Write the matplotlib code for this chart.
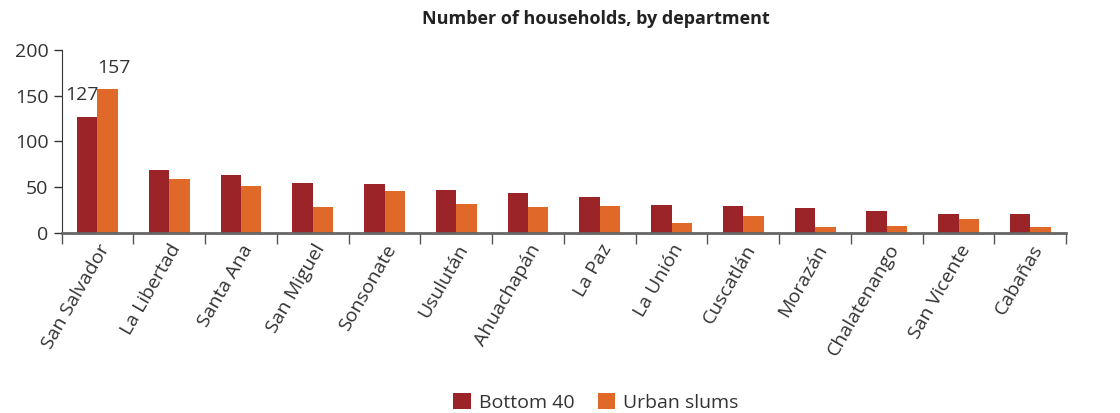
import numpy as np
import matplotlib.pyplot as plt

plt.rcParams['font.family'] = ['Open Sans', 'DejaVu Sans']

departments = ['San Salvador', 'La Libertad', 'Santa Ana', 'San Miguel', 'Sonsonate',
               'Usulután', 'Ahuachapán', 'La Paz', 'La Unión', 'Cuscatlán', 'Morazán',
               'Chalatenango', 'San Vicente', 'Cabañas']
bottom40 = [127, 69, 63, 55, 53, 47, 44, 39, 31, 29, 27, 24, 21, 21]
urban_slums = [157, 59, 51, 28, 46, 32, 28, 29, 11, 19, 7, 8, 15, 7]

c_dark = '#9B2429'
c_orange = '#E0692A'
c_text = '#333333'

fig = plt.figure(figsize=(11.2, 4.13), dpi=100)
ax = fig.add_axes([0.055, 0.436, 0.897, 0.443])

x = np.arange(len(departments))
w = 0.285
ax.bar(x - w / 2, bottom40, w, color=c_dark, label='Bottom 40')
ax.bar(x + w / 2, urban_slums, w, color=c_orange, label='Urban slums')

# value labels for the first department
ax.text(x[0] - w / 2 - 0.07, bottom40[0] + 14, str(bottom40[0]), ha='center', va='bottom',
        fontsize=14, color=c_text)
ax.text(x[0] + w / 2 + 0.08, urban_slums[0] + 14, str(urban_slums[0]), ha='center', va='bottom',
        fontsize=14, color=c_text)

ax.set_xlim(-0.5, len(departments) - 0.5)
ax.set_ylim(0, 200)
ax.set_yticks([0, 50, 100, 150, 200])
ax.tick_params(axis='y', labelsize=14, colors=c_text, length=6, width=1)

# ticks between categories, labels at centres
ax.set_xticks(np.arange(len(departments) + 1) - 0.5)
ax.set_xticklabels([])
ax.set_xticks(x, minor=True)
ax.set_xticklabels(departments, minor=True, rotation=60, ha='right', rotation_mode='anchor',
                   fontsize=14, color=c_text)
ax.tick_params(axis='x', which='major', length=8, width=1, color='#555555')
ax.tick_params(axis='x', which='minor', length=0, pad=6)

for s in ['top', 'right']:
    ax.spines[s].set_visible(False)
ax.spines['left'].set_color(c_text)
ax.spines['bottom'].set_color('#666666')
ax.spines['bottom'].set_linewidth(2)

fig.text(0.532, 0.955, 'Number of households, by department', ha='center', va='center',
         fontsize=13, fontweight='bold', color='#222222')

fig.legend(loc='lower center', bbox_to_anchor=(0.532, -0.04), ncol=2, frameon=False,
           fontsize=14, handlelength=0.9, handleheight=0.9, handletextpad=0.4,
           columnspacing=1.2, labelcolor=c_text)

fig.savefig('out.png', dpi=100)
